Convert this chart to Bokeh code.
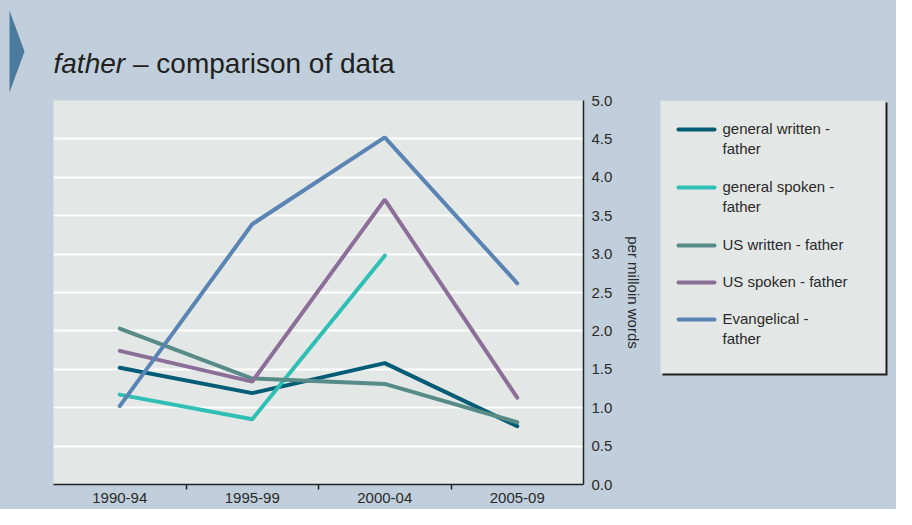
from bokeh.plotting import figure
from bokeh.layouts import column, row
from bokeh.models import (Range1d, LinearAxis, FixedTicker, PrintfTickFormatter, Label)
from bokeh.core.properties import value
from bokeh.embed import file_html
from bokeh.resources import INLINE

categories = ["1990-94", "1995-99", "2000-04", "2005-09"]
general_written = [1.52, 1.19, 1.58, 0.76]
general_spoken = [1.17, 0.85, 2.98, float("nan")]
us_written = [2.03, 1.38, 1.31, 0.81]
us_spoken = [1.74, 1.34, 3.71, 1.13]
evangelical = [1.02, 3.39, 4.52, 2.62]
y_ticks = [0.0, 0.5, 1.0, 1.5, 2.0, 2.5, 3.0, 3.5, 4.0, 4.5, 5.0]
series_names = ["general written -\nfather", "general spoken -\nfather",
                "US written - father", "US spoken - father", "Evangelical -\nfather"]
series_values = [general_written, general_spoken, us_written, us_spoken, evangelical]
series_colors = ["#035c76", "#30bfb5", "#568b88", "#8b6f98", "#5a84b3"]

FONT = "Liberation Sans"
BG = "#c0cfdb"
PANEL = "#e3e7e6"
TXT = "#2a2a2a"
W, H = 896, 509
TOP_H = 92
MAIN_W = 645
LOW_H = H - TOP_H
B_TOP, B_BOT = 8, 25
BGSTYLE = {"background-color": BG}


def bare(fig):
    fig.border_fill_color = BG
    fig.background_fill_color = BG
    fig.outline_line_color = None
    fig.grid.visible = False
    return fig


# ---------- title strip ----------
t = bare(figure(width=W, height=TOP_H, output_backend="svg", toolbar_location=None,
                x_range=Range1d(0, W), y_range=Range1d(TOP_H, 0),
                x_axis_location=None, y_axis_location=None,
                min_border=0, styles=BGSTYLE))
t.patch([9, 24, 9], [10, 51, 92], fill_color="#4a7a9c", line_color=None)
t.add_layout(Label(x=53, y=63, text="father", text_font=FONT, text_font_size="28px",
                   text_font_style="italic", text_color="#231f20",
                   text_baseline="alphabetic"))
t.add_layout(Label(x=132.5, y=63, text="\u2013 comparison of data", text_font=FONT,
                   text_font_size="28px", text_color="#231f20",
                   text_baseline="alphabetic"))

# ---------- main chart ----------
x_pos = [i + 0.5 for i in range(len(categories))]
p = figure(width=MAIN_W, height=LOW_H, output_backend="svg", toolbar_location=None,
           x_range=Range1d(0, len(categories)), y_range=Range1d(0, 5),
           y_axis_location=None, min_border_left=53, min_border_right=MAIN_W - 585,
           min_border_top=B_TOP, min_border_bottom=B_BOT, styles=BGSTYLE)
p.border_fill_color = BG
p.background_fill_color = PANEL
p.outline_line_color = None

xa = p.xaxis[0]
xa.ticker = FixedTicker(ticks=x_pos, minor_ticks=[1, 2, 3])
xa.major_label_overrides = {x: c for x, c in zip(x_pos, categories)}
xa.major_tick_out = 0
xa.major_tick_in = 0
xa.minor_tick_out = 5
xa.minor_tick_in = 0
xa.minor_tick_line_color = "#222222"
xa.minor_tick_line_width = 1.5
xa.axis_line_color = "#222222"
xa.axis_line_width = 1.5
xa.major_label_text_font = FONT
xa.major_label_text_font_size = "15px"
xa.major_label_text_color = TXT
xa.major_label_standoff = 3

ya = LinearAxis(ticker=FixedTicker(ticks=y_ticks), formatter=PrintfTickFormatter(format="%.1f"),
                axis_label="per milloin words")
ya.major_tick_out = 0
ya.major_tick_in = 0
ya.minor_tick_out = 0
ya.minor_tick_in = 0
ya.axis_line_color = "#222222"
ya.axis_line_width = 1.5
ya.major_label_text_font = FONT
ya.major_label_text_font_size = "15px"
ya.major_label_text_color = TXT
ya.major_label_standoff = 8
ya.axis_label_text_font = FONT
ya.axis_label_text_font_size = "15px"
ya.axis_label_text_font_style = "normal"
ya.axis_label_text_color = TXT
ya.axis_label_standoff = 10
p.add_layout(ya, "right")

p.xgrid.visible = False
p.ygrid.ticker = FixedTicker(ticks=y_ticks)
p.ygrid.grid_line_color = "white"
p.ygrid.grid_line_width = 2

for vals, col in zip(series_values, series_colors):
    p.line(x_pos, vals, line_color=col, line_width=4, line_cap="round")

# ---------- legend panel (drawn in pixel space, frame aligned with chart) ----------
LEG_W = W - MAIN_W
lf = bare(figure(width=LEG_W, height=LOW_H, output_backend="svg", toolbar_location=None,
                 x_range=Range1d(0, LEG_W), y_range=Range1d(LOW_H - B_BOT, B_TOP),
                 x_axis_location=None, y_axis_location=None,
                 min_border_left=0, min_border_right=0,
                 min_border_top=B_TOP, min_border_bottom=B_BOT, styles=BGSTYLE))
BOX_L, BOX_R, BOX_T, BOX_B = 15, 240, B_TOP, B_TOP + 273
lf.quad(left=[BOX_L + 2], right=[BOX_R + 2], top=[BOX_T + 2], bottom=[BOX_B + 2],
        fill_color="#1e1e1e", line_color=None)
lf.quad(left=[BOX_L], right=[BOX_R], top=[BOX_T], bottom=[BOX_B],
        fill_color=PANEL, line_color=None)

LINE_H = 21
GAP = 16
ys = []
cur = BOX_T + 29
for name in series_names:
    ys.append(cur)
    cur += name.count("\n") * LINE_H + LINE_H + GAP
sw_x0 = BOX_L + 18
sw_x1 = sw_x0 + 36
lf.segment(x0=[sw_x0] * len(ys), x1=[sw_x1] * len(ys), y0=ys, y1=ys,
           line_color=series_colors, line_width=4, line_cap="round")
lf.text(x=[sw_x1 + 8] * len(ys), y=[y - 10 for y in ys], text=series_names,
        text_font=value(FONT), text_font_size="15px", text_color=TXT,
        text_baseline="top", text_align="left", text_line_height=1.2)

layout = column(t, row(p, lf, spacing=0, styles=BGSTYLE), spacing=0, styles=BGSTYLE)
open("out.html", "w").write(file_html(layout, INLINE))
